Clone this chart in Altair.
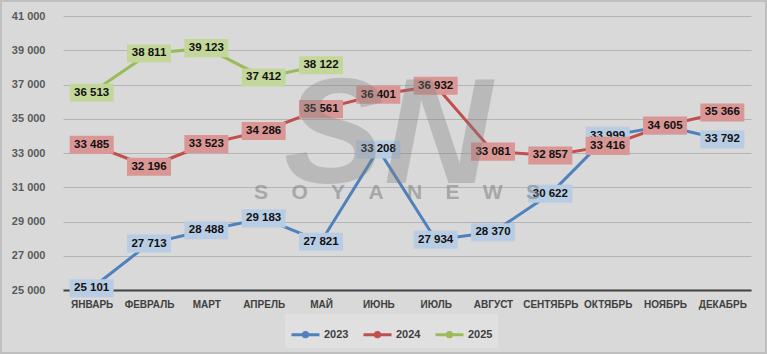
import altair as alt
import pandas as pd

months = ["ЯНВАРЬ", "ФЕВРАЛЬ", "МАРТ", "АПРЕЛЬ", "МАЙ", "ИЮНЬ", "ИЮЛЬ",
          "АВГУСТ", "СЕНТЯБРЬ", "ОКТЯБРЬ", "НОЯБРЬ", "ДЕКАБРЬ"]
v2023 = [25101, 27713, 28488, 29183, 27821, 33208, 27934, 28370, 30622, 33999, 34580, 33792]
v2024 = [33485, 32196, 33523, 34286, 35561, 36401, 36932, 33081, 32857, 33416, 34605, 35366]
v2025 = [36513, 38811, 39123, 37412, 38122]
years = ["2023", "2024", "2025"]
line_colors = ["#4F81BD", "#C0504D", "#9BBB59"]
label_fills = ["#B8CCE4", "#DA9694", "#C4D79B"]
y_ticks = list(range(25000, 41001, 2000))

rows = []
for yr, vals in zip(years, [v2023, v2024, v2025]):
    for i, v in enumerate(vals):
        rows.append({"month": months[i], "idx": i, "year": yr, "value": v})
df = pd.DataFrame(rows)

FONT = "Liberation Sans"
LEG_PATH = ("M-1,0H1M-0.15,0A0.15,0.15 0 1,0 0.15,0A0.15,0.15 0 1,0 -0.15,0Z")
BOX_PATH = "M-1,-0.41H1V0.41H-1Z"

legend = alt.Legend(
    title=None, orient="none", legendX=222, legendY=298, direction="horizontal",
    fillColor="#E0E0E0", padding=5, symbolType=LEG_PATH, symbolSize=784,
    symbolStrokeWidth=3, labelFont=FONT, labelFontSize=11, labelFontWeight="bold",
    labelColor="#404040", columnPadding=8, labelOffset=3,
)

x_enc = alt.X("month:N", sort=months, title=None,
              axis=alt.Axis(labelAngle=0, labelFont=FONT, labelFontSize=10,
                            labelFontWeight="bold", labelColor="#404040",
                            domainColor="#404040", domainWidth=2, ticks=False,
                            labelPadding=9, grid=False))
y_enc = alt.Y("value:Q", title=None,
              scale=alt.Scale(domain=[25000, 41000], nice=False, zero=False),
              axis=alt.Axis(values=y_ticks, labelFont=FONT, labelFontSize=11,
                            labelFontWeight="bold", labelColor="#595959",
                            domain=False, ticks=False, labelPadding=18,
                            gridColor="#B4B4B4", gridWidth=1,
                            labelExpr="replace(format(datum.value, ','), ',', ' ')"))
color_enc = alt.Color("year:N", scale=alt.Scale(domain=years, range=line_colors),
                      legend=legend)

base = alt.Chart(df).encode(x=x_enc, y=y_enc)

lines = base.mark_line(strokeWidth=3).encode(color=color_enc, order=alt.Order("idx:Q"))
points = base.mark_point(filled=True, size=150, opacity=1).encode(color=color_enc)

layers = [lines, points]
for yr, fc in zip(years, label_fills):
    sub = base.transform_filter(alt.datum.year == yr).transform_calculate(
        label="replace(format(datum.value, ','), ',', ' ')")
    layers.append(sub.mark_point(shape=BOX_PATH, size=44 * 44, filled=True,
                                 opacity=1, strokeWidth=0, fill=fc))
    layers.append(sub.mark_text(font=FONT, fontSize=11.5, fontWeight="bold",
                                color="#111111", baseline="middle", align="center")
                  .encode(text="label:N"))

wm_df = pd.DataFrame({"t": ["S\u00a0\u00a0\u00a0\u00a0O\u00a0\u00a0\u00a0\u00a0Y\u00a0\u00a0\u00a0\u00a0A\u00a0\u00a0\u00a0\u00a0N\u00a0\u00a0\u00a0\u00a0E\u00a0\u00a0\u00a0\u00a0W\u00a0\u00a0\u00a0\u00a0S"]})
wm = alt.Chart(wm_df).mark_text(font=FONT, fontSize=21, fontWeight="bold",
                                color="#808080", opacity=0.55, baseline="middle",
                                align="center").encode(
    text="t:N", x=alt.value(334), y=alt.value(177))
logo_df = pd.DataFrame({"t": ["SN"]})
logo = alt.Chart(logo_df).mark_text(font=FONT, fontSize=150, fontWeight="bold",
                                    fontStyle="italic", color="#808080", opacity=0.35,
                                    baseline="alphabetic", align="center").encode(
    text="t:N", x=alt.value(325), y=alt.value(167))

frame = alt.Chart(logo_df).mark_rect(fill="transparent", stroke="#BFBFBF",
                                     strokeWidth=2).encode(
    x=alt.value(-62), x2=alt.value(703), y=alt.value(-15), y2=alt.value(337))

layers += [logo, wm, frame]

chart = alt.layer(*layers).properties(
    width=688, height=274,
    autosize=alt.AutoSizeParams(type="none"),
    padding={"left": 63, "top": 16, "right": 16, "bottom": 64},
    background="#D9D9D9",
).configure_view(stroke=None)

chart.save("out.html", embed_options={"renderer": "svg", "actions": False})
